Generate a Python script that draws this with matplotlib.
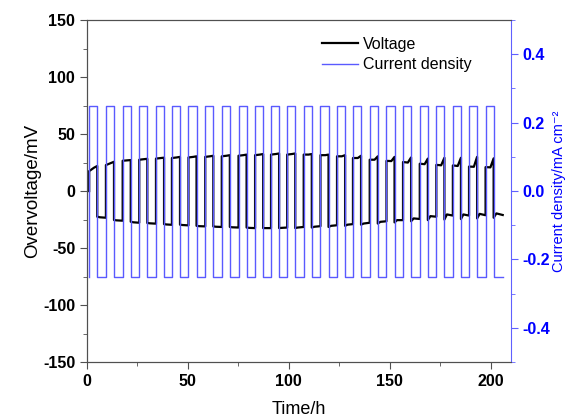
import matplotlib
matplotlib.use('Agg')
import matplotlib.pyplot as plt
from matplotlib.ticker import MultipleLocator
import numpy as np

plt.rcParams['font.family'] = ['Liberation Sans', 'DejaVu Sans']
plt.rcParams['axes.unicode_minus'] = False

# start of each charging (positive current) half-cycle, h
cycle_start = [1.1, 9.4, 17.7, 25.9, 34.2, 42.1, 50.3, 58.6, 66.8, 75.1,
               83.3, 91.2, 99.2, 107.4, 115.7, 123.9, 131.8, 140.1, 148.4,
               156.6, 164.9, 173.1, 181.3, 189.3, 197.5]
pos_duration = 4.0   # h
end_time = 206.0
current_amp = 0.25   # mA cm-2

# overvoltage during positive half (start, middle, end), mV
pos_start = [17.5, 22.8, 26.6, 27.5, 28.5, 29.0, 29.5, 30.0, 30.5, 31.0,
             31.5, 32.0, 32.0, 32.0, 31.5, 30.5, 29.0, 27.5, 26.5, 25.5,
             24.0, 23.0, 22.5, 21.5, 21.0]
pos_mid = [20.5, 24.5, 27.0, 28.0, 29.0, 29.5, 30.0, 30.5, 31.0, 31.5,
           32.0, 32.5, 32.5, 32.0, 31.5, 30.5, 29.0, 27.5, 26.3, 25.0,
           23.6, 22.6, 22.0, 21.3, 20.8]
pos_end = [22.0, 25.7, 27.2, 28.3, 29.3, 30.0, 30.5, 31.0, 31.5, 32.0,
           32.5, 33.0, 33.0, 32.5, 32.0, 31.5, 31.0, 30.5, 30.0, 29.5,
           28.5, 29.2, 29.2, 30.0, 28.7]

# overvoltage during negative half (start, middle, end), mV
neg_start = [-22.5, -25.4, -26.9, -28.0, -29.0, -29.5, -30.5, -31.0, -31.5, -32.0,
             -32.5, -32.5, -32.5, -32.0, -31.5, -30.5, -29.5, -28.5, -27.5, -26.5,
             -25.5, -25.0, -24.6, -24.0, -23.4]
neg_mid = [-23.0, -25.7, -27.4, -28.3, -29.3, -29.8, -30.8, -31.3, -31.8, -32.3,
           -32.5, -32.3, -32.0, -31.3, -30.5, -29.5, -28.5, -27.0, -25.5, -24.0,
           -22.0, -20.5, -20.5, -20.0, -19.6]
neg_end = [-23.4, -26.0, -27.8, -28.6, -29.6, -30.1, -31.0, -31.5, -32.0, -32.5,
           -32.5, -32.0, -31.5, -30.8, -30.0, -29.0, -27.8, -26.5, -25.5, -24.5,
           -22.5, -21.5, -21.5, -21.2, -21.0]

# build the voltage and current curves
t_v = [cycle_start[0]]
v = [0.0]
t_i = [cycle_start[0]]
cur = [-current_amp]
for k, ts in enumerate(cycle_start):
    te = ts + pos_duration
    tn = cycle_start[k + 1] if k + 1 < len(cycle_start) else end_time
    t_v += [ts, ts + 0.6 * pos_duration, te]
    v += [pos_start[k], pos_mid[k], pos_end[k]]
    t_v += [te, te + 0.3 * (tn - te), tn]
    v += [neg_start[k], neg_mid[k], neg_end[k]]
    t_i += [ts, te, te, tn]
    cur += [current_amp, current_amp, -current_amp, -current_amp]

fig = plt.figure(figsize=(5.72, 4.19), dpi=100)
ax = fig.add_axes([0.152, 0.136, 0.741, 0.816])
ax2 = ax.twinx()

l1, = ax.plot(t_v, v, color='black', lw=1.6, label='Voltage')
l2, = ax2.plot(t_i, cur, color='#5a5aff', lw=1.0, label='Current density')

ax.set_xlim(0, 210)
ax.set_ylim(-150, 150)
ax2.set_ylim(-0.5, 0.5)

ax.xaxis.set_major_locator(MultipleLocator(50))
ax.xaxis.set_minor_locator(MultipleLocator(25))
ax.yaxis.set_major_locator(MultipleLocator(50))
ax.yaxis.set_minor_locator(MultipleLocator(25))
ax2.yaxis.set_major_locator(MultipleLocator(0.2))
ax2.yaxis.set_minor_locator(MultipleLocator(0.1))

gray = '#505050'
blue = '#0000ff'
for s in ['left', 'bottom', 'top']:
    ax.spines[s].set_color(gray)
    ax2.spines[s].set_color(gray)
ax2.spines['right'].set_color('#6060ff')
ax.spines['right'].set_visible(False)

ax.tick_params(axis='both', which='major', direction='out', length=5,
               color=gray, labelsize=11.5)
ax.tick_params(axis='both', which='minor', direction='out', length=3, color=gray)
ax.tick_params(top=False, which='both')
ax2.tick_params(axis='y', which='major', direction='out', length=5,
                color='#6060ff', labelcolor=blue, labelsize=11.5)
ax2.tick_params(axis='y', which='minor', direction='out', length=3, color='#6060ff')

for lab in ax.get_xticklabels() + ax.get_yticklabels():
    lab.set_fontweight('bold')
ax2.set_yticks([-0.4, -0.2, 0.0, 0.2, 0.4])
ax2.set_yticklabels(['-0.4', '-0.2', '0.0', '0.2', '0.4'])
for lab in ax2.get_yticklabels():
    lab.set_fontweight('bold')
    lab.set_color(blue)

ax.set_xlabel('Time/h', fontsize=13, labelpad=9)
ax.set_ylabel('Overvoltage/mV', fontsize=13.5, labelpad=1)
ax2.set_ylabel('Current density/mA cm\u207b\u00b2', fontsize=10.5, color=blue,
               labelpad=1)

ax.legend([l1, l2], ['Voltage', 'Current density'], loc='upper left',
          bbox_to_anchor=(0.535, 0.975), frameon=False, fontsize=11.5,
          handlelength=2.3, handletextpad=0.3, borderpad=0, labelspacing=0.35)

fig.savefig('out.png', dpi=100)
